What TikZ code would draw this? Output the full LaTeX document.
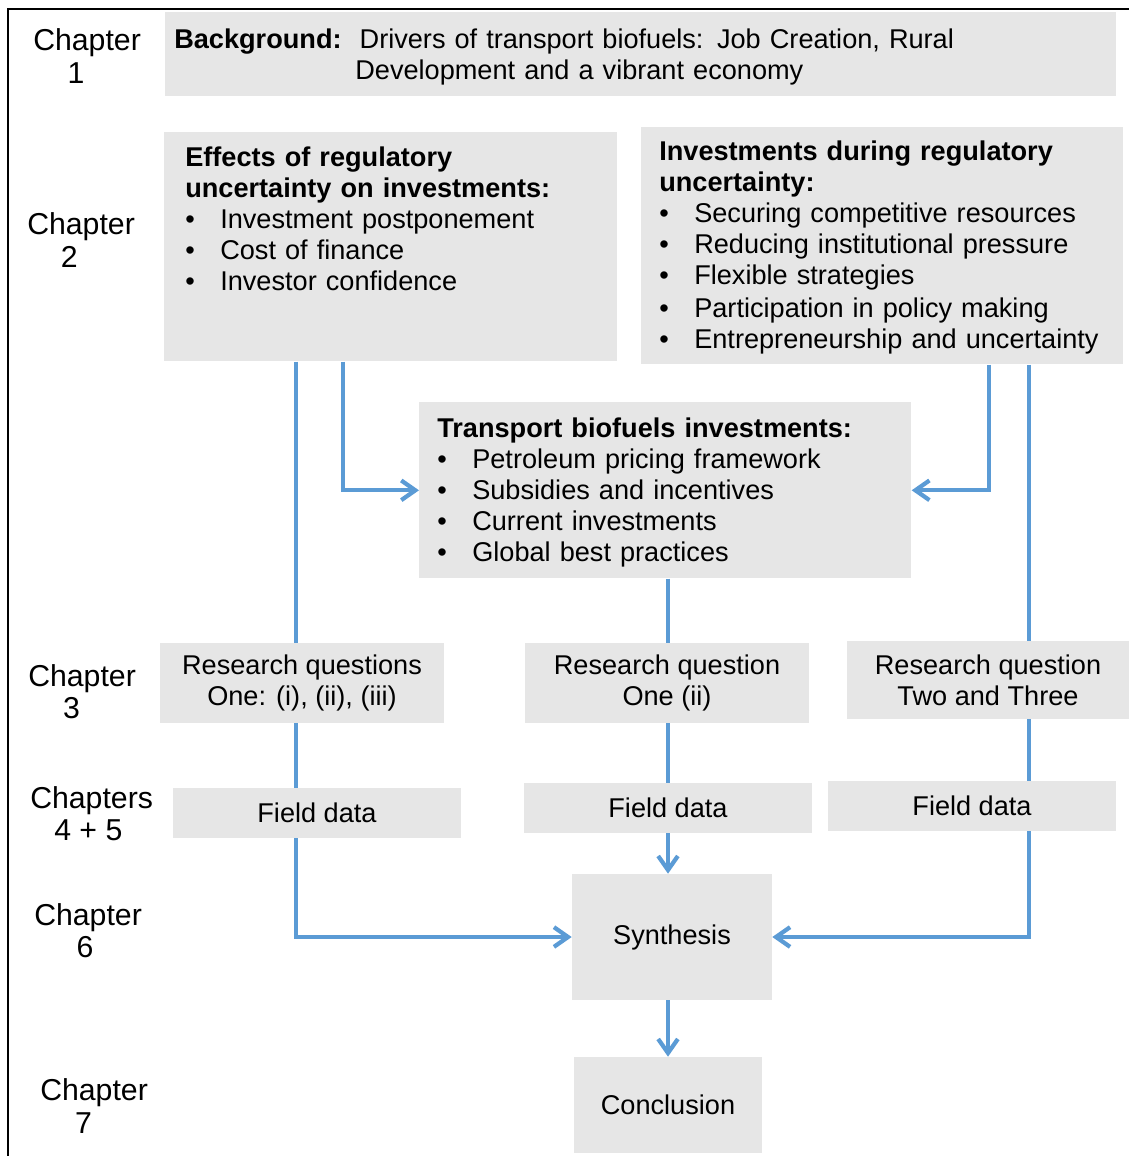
\documentclass[tikz,border=0pt]{standalone}
\usepackage{fontspec}
\setmainfont{Liberation Sans}
\usetikzlibrary{arrows.meta}
\definecolor{boxgray}{RGB}{230,230,230}
\definecolor{linkblue}{RGB}{91,155,213}
\newcommand{\bitem}[1]{\makebox[0.875cm][l]{\textbullet}\mbox{#1}}

\begin{document}
\begin{tikzpicture}[x=0.025cm, y=-0.025cm,
  font=\fontsize{19.3pt}{22pt}\selectfont,
  box/.style={fill=boxgray, inner sep=0pt, align=center},
  textbox/.style={fill=boxgray, anchor=north west, inner ysep=0pt, align=left},
  chap/.style={anchor=west, inner sep=0pt, align=left, font=\fontsize{21.5pt}{23pt}\selectfont},
  link/.style={draw=linkblue, line width=3pt},
  >={Straight Barb[length=10pt,width=14pt]}]
\useasboundingbox (0,0) rectangle (1129,1156);
% frame
\draw[line width=1pt] (8,9) rectangle (1145,1175);
% Chapter 1
\node[chap] (chone) at (33,56) {Chapter\\\hspace*{0.86cm}1};
\node[textbox, inner xsep=0.225cm, text width=23.3cm, text height=0.9cm, text depth=1.2cm] (backgr) at (165,12)
  {\textbf{Background:}\hspace{0.45cm}Drivers of transport biofuels: Job Creation, Rural\\\hspace*{4.525cm}Development and a vibrant economy};
% Chapter 2
\node[chap] (chtwo) at (27,240) {Chapter\\\hspace*{0.84cm}2};
\node[textbox, inner xsep=0.525cm, text width=10.275cm, text height=0.85cm, text depth=4.875cm] (effects) at (164,132)
  {\textbf{Effects of regulatory}\\\textbf{uncertainty on investments:}\\\bitem{Investment postponement}\\\bitem{Cost of finance}\\\bitem{Investor confidence}};
\node[textbox, inner xsep=0.45cm, text width=11.15cm, text height=0.825cm, text depth=5.1cm] (invest) at (641,127)
  {\textbf{Investments during regulatory}\\\textbf{uncertainty:}\\\bitem{Securing competitive resources}\\\bitem{Reducing institutional pressure}\\\bitem{Flexible strategies}\\[0.075cm]\bitem{Participation in policy making}\\\bitem{Entrepreneurship and uncertainty}};
\node[textbox, inner xsep=0.45cm, text width=11.4cm, text height=0.875cm, text depth=3.525cm] (transport) at (419,402)
  {\textbf{Transport biofuels investments:}\\\bitem{Petroleum pricing framework}\\\bitem{Subsidies and incentives}\\\bitem{Current investments}\\\bitem{Global best practices}};
% Chapter 3
\node[chap] (chthree) at (28,692) {Chapter\\\hspace*{0.87cm}3};
\node[box, minimum width=7.1cm, minimum height=2cm] (rqone) at (302,683) {Research questions\\One: (i), (ii), (iii)};
\node[box, minimum width=7.1cm, minimum height=2cm] (rqtwo) at (667,683) {Research question\\One (ii)};
\node[box, minimum width=7.05cm, minimum height=1.95cm] (rqthree) at (988,680) {Research question\\Two and Three};
% Chapters 4 + 5
\node[chap] (chfour) at (30,814) {Chapters\\\hspace*{0.6cm}4 + 5};
\node[box, minimum width=7.175cm, minimum height=1.25cm] (fdone) at (317,813) {Field data};
\node[box, minimum width=7.175cm, minimum height=1.25cm] (fdtwo) at (668,808) {Field data};
\node[box, minimum width=7.175cm, minimum height=1.25cm] (fdthree) at (972,806) {Field data};
% Chapter 6
\node[chap] (chsix) at (34,931) {Chapter\\\hspace*{1.06cm}6};
\node[box, minimum width=5cm, minimum height=3.15cm] (synth) at (672,937) {Synthesis};
% Chapter 7
\node[chap] (chseven) at (40,1106) {Chapter\\\hspace*{0.87cm}7};
\node[box, minimum width=4.675cm, minimum height=2.4cm] (concl) at (668,1105) {Conclusion};
% connectors
\coordinate (ltrunk) at (296,0);
\coordinate (lbranch) at (343,0);
\coordinate (mid) at (668,0);
\coordinate (rbranch) at (989,0);
\coordinate (rtrunk) at (1029,0);
\foreach \a/\b/\x in {effects/rqone/ltrunk, rqone/fdone/ltrunk, invest/rqthree/rtrunk,
  rqthree/fdthree/rtrunk, transport/rqtwo/mid, rqtwo/fdtwo/mid}
  \draw[link] (\a.south -| \x) -- (\b.north -| \x);
\draw[link, ->] (effects.south -| lbranch) |- (transport.west);
\draw[link, ->] (invest.south -| rbranch) |- (transport.east);
\draw[link, ->] (fdone.south -| ltrunk) |- (synth.west);
\draw[link, ->] (fdthree.south -| rtrunk) |- (synth.east);
\draw[link, ->] (fdtwo.south -| mid) -- (synth.north -| mid);
\draw[link, ->] (synth.south -| mid) -- (concl.north -| mid);
\end{tikzpicture}
\end{document}
